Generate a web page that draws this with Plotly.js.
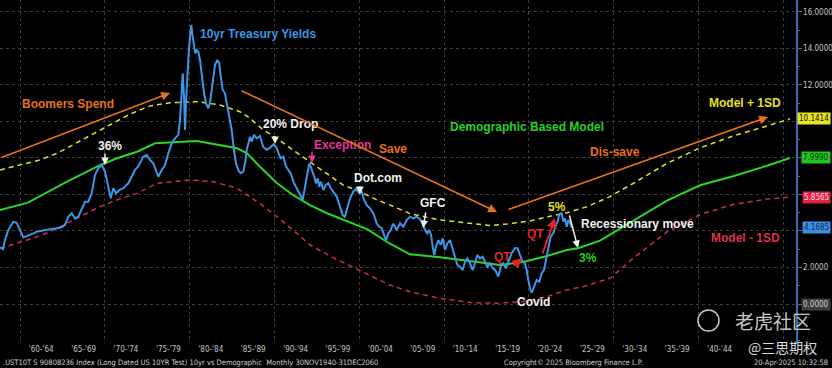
<!DOCTYPE html>
<html><head><meta charset="utf-8">
<script src="https://cdn.plot.ly/plotly-3.0.1.min.js"></script>
<style>html,body{margin:0;padding:0;background:#000;} #chart{width:832px;height:368px;}</style>
</head><body><div id="chart"></div>
<script>
// ---- data ----
const blueYears = [
1957.64,1957.99,1958.23,1958.62,1959.21,1959.61,1960.00,1960.39,1960.79,1961.18,
1961.57,1961.97,1962.75,1963.54,1964.33,1964.92,1965.31,1965.69,1966.10,1966.48,
1966.87,1967.27,1967.66,1968.05,1968.45,1968.84,1969.23,1969.63,1970.02,1970.41,
1970.69,1971.00,1971.32,1971.71,1972.18,1972.77,1973.17,1973.56,1973.95,1974.15,
1974.54,1974.94,1975.33,1975.72,1976.12,1976.31,1976.71,1977.10,1977.49,1977.89,
1978.28,1978.67,1978.87,1979.07,1979.19,1979.34,1979.46,1979.57,1979.73,1979.89,
1980.05,1980.20,1980.36,1980.52,1980.67,1980.84,1981.02,1981.23,1981.43,1981.70,
1981.93,1982.20,1982.40,1982.61,1982.79,1982.99,1983.27,1983.50,1983.67,1983.90,
1984.17,1984.44,1984.76,1984.96,1985.23,1985.47,1985.74,1986.02,1986.33,1986.53,
1986.73,1986.92,1987.12,1987.32,1987.59,1987.91,1988.30,1988.69,1989.09,1989.48,
1989.87,1990.19,1990.46,1990.74,1991.05,1991.37,1991.64,1991.92,1992.23,1992.55,
1992.82,1993.10,1993.34,1993.61,1993.88,1994.11,1994.28,1994.52,1994.70,1994.90,
1995.11,1995.29,1995.49,1995.77,1996.05,1996.36,1996.64,1996.94,1997.35,1997.73,
1998.05,1998.32,1998.60,1998.91,1999.30,1999.70,1999.98,2000.29,2000.57,2000.88,
2001.27,2001.66,2002.06,2002.37,2002.65,2002.92,2003.16,2003.43,2003.71,2004.02,
2004.42,2004.81,2005.20,2005.60,2005.99,2006.38,2006.78,2007.17,2007.56,2007.76,
2008.03,2008.27,2008.47,2008.67,2008.85,2009.05,2009.33,2009.61,2009.85,2010.12,
2010.39,2010.71,2011.02,2011.30,2011.57,2011.89,2012.20,2012.48,2012.75,2013.07,
2013.38,2013.65,2013.93,2014.24,2014.56,2014.83,2015.11,2015.42,2015.74,2016.05,
2016.40,2016.69,2016.99,2017.31,2017.63,2017.98,2018.37,2018.69,2018.96,2019.28,
2019.55,2019.75,2019.94,2020.14,2020.34,2020.61,2020.93,2021.24,2021.52,2021.79,
2022.03,2022.30,2022.58,2022.89,2023.21,2023.44,2023.60,2023.88,2024.07,2024.27,
2024.47,2024.66,2024.86,2025.09];
const blueYields = [
3.1,3.0,3.5,4.05,4.5,4.45,4.05,3.65,3.72,3.78,
3.87,3.96,4.05,4.1,4.15,4.2,4.33,4.78,4.97,4.69,
4.78,5.15,5.6,5.6,6.06,7.06,7.43,7.61,7.25,6.42,
5.79,6.34,6.06,6.24,6.34,6.61,6.97,7.34,7.55,7.7,
8.07,8.16,7.89,7.7,7.16,6.97,7.34,7.61,8.25,8.8,
9.07,9.26,10.08,11.9,12.63,11.35,9.53,10.99,12.81,13.73,
14.64,15.28,14.64,14.09,13.73,13.91,13.82,13.36,12.45,11.54,
10.99,10.72,10.99,11.72,12.45,13.09,13.36,13.18,12.45,11.72,
11.54,10.8,10.08,9.53,8.43,7.7,7.34,7.16,7.25,7.7,
8.43,8.89,9.16,8.89,9.26,9.07,9.2,8.6,8.45,8.55,
8.75,8.61,8.25,7.98,8.07,7.52,7.34,7.16,6.7,6.42,
6.15,5.88,5.7,6.42,7.16,7.7,7.52,7.25,6.97,6.61,
6.88,6.42,6.7,6.24,6.52,6.61,6.34,6.15,5.88,5.33,
4.87,4.78,5.33,5.79,6.15,6.34,6.06,6.15,5.7,5.42,
5.24,4.97,4.42,4.23,4.15,3.78,3.5,3.87,4.05,4.4,
4.05,4.42,4.23,4.6,4.78,4.69,4.78,4.64,4.33,4.05,
3.87,4.05,3.78,3.14,2.68,3.14,3.5,3.23,3.6,2.96,
3.32,3.5,2.96,2.5,2.14,2.04,1.86,2.32,2.5,2.23,
1.86,2.23,2.68,2.5,2.59,2.32,2.04,2.23,1.95,1.86,
1.5,2.04,2.23,1.95,2.41,2.78,3.05,3.05,2.68,2.32,
2.23,1.86,1.31,0.86,0.62,0.95,1.31,1.22,1.68,1.86,
2.41,2.96,3.69,3.9,4.3,4.6,4.93,4.97,4.51,4.69,
4.23,4.6,4.42,4.17];

const modelYears = [1957.64,1960.94,1965.54,1969.43,1971.44,1973.80,1975.92,1980.87,1985.59,1986.77,1988.30,1990.31,1992.19,1994.20,1996.20,1998.56,2000.92,2003.63,2005.99,2009.53,2013.42,2016.60,2019.32,2022.15,2024.50,2025.80,2028.40,2032.29,2036.29,2040.19,2044.08,2048.09,2050.80];
const modelValues = [5.15,5.55,6.7,7.6,7.98,8.34,8.8,8.93,8.53,8.25,7.52,6.61,5.97,5.42,4.97,4.55,4.1,3.3,2.72,2.56,2.32,2.14,2.3,2.63,2.96,3.05,3.47,4.56,5.66,6.5,7.0,7.57,7.999];

const upperYears = [1957.64,1960.00,1962.36,1964.36,1969.43,1972.97,1975.33,1977.69,1980.87,1983.58,1985.94,1987.12,1988.65,1990.31,1992.19,1994.20,1996.20,1998.09,2000.09,2002.10,2003.98,2005.99,2009.53,2013.42,2015.42,2017.43,2020.14,2022.50,2024.50,2026.86,2029.57,2032.29,2036.29,2040.19,2044.08,2048.09,2050.80];
const upperValues = [7.34,7.61,7.89,8.25,9.5,10.4,10.85,11.02,11.08,10.9,10.53,10.17,9.55,9.07,8.43,7.79,7.16,6.52,6.15,5.7,5.35,4.95,4.6,4.38,4.3,4.38,4.55,4.8,5.0,5.33,5.88,6.6,7.7,8.55,9.2,9.75,10.1414];

const lowerYears = [1957.64,1959.64,1961.53,1963.54,1965.54,1967.43,1969.43,1971.44,1973.80,1976.15,1980.05,1982.76,1985.59,1988.30,1990.31,1992.19,1994.20,1996.91,2000.92,2003.63,2005.99,2009.53,2013.42,2016.25,2019.32,2022.15,2024.50,2026.39,2029.57,2032.29,2036.29,2040.19,2044.08,2048.09,2050.80];
const lowerValues = [3.05,3.32,3.6,3.96,4.42,4.87,5.33,5.7,6.06,6.61,6.79,6.7,6.34,5.5,4.78,4.05,3.23,2.54,1.67,1.04,0.67,0.31,0.07,0.04,0.13,0.4,0.77,0.95,1.41,2.5,3.95,4.9,5.45,5.75,5.8565];

const xTickVals = [1962.5,1967.5,1972.5,1977.5,1982.5,1987.5,1992.5,1997.5,2002.5,2007.5,2012.5,2017.5,2022.5,2027.5,2032.5,2037.5,2042.5];
const xTickText = ["'60-'64","'65-'69","'70-'74","'75-'79","'80-'84","'85-'89","'90-'94","'95-'99","'00-'04","'05-'09","'10-'14","'15-'19","'20-'24","'25-'29","'30-'34","'35-'39","'40-'44"];
const decadeYears = [1960,1970,1980,1990,2000,2010,2020,2030,2040,2050];
const yTickVals = [0,2,4,6,8,10,12,14,16];
const yTickText = ['','2.0000','','','','','12.0000','14.0000','16.0000'];
const lastValues = {upper:'10.1414', model:'7.9990', lower:'5.8565', yield:'4.1685', zero:'0.0000'};

// ---- layout helpers ----
const W=832, H=368, M={l:0,r:36,t:0,b:25};
const PW=W-M.l-M.r, PH=H-M.t-M.b;
const px = x => x/PW, py = y => 1 - y/PH;
const FONT = 'Liberation Sans, Arial, sans-serif';
const SMALL = 'DejaVu Sans Condensed, DejaVu Sans, sans-serif';
function label(text, cx, cy, color, size){
  return {text:'<b>'+text+'</b>', x:px(cx), y:py(cy), xref:'paper', yref:'paper', showarrow:false,
    xanchor:'center', yanchor:'middle', font:{family:FONT, size:size||12, color:color}};
}
function arrow(x0,y0,x1,y1,color,w,head,size){
  return {text:'', x:px(x1), y:py(y1), xref:'paper', yref:'paper', ax:x0-x1, ay:y0-y1,
    axref:'pixel', ayref:'pixel', showarrow:true, arrowhead:head||2, arrowsize:size||1,
    arrowwidth:w||1.5, arrowcolor:color, standoff:0};
}
function tag(text, v, bg, fg){
  return {text:text, x:px(W-1), xref:'paper', xanchor:'right', y:v, yref:'y', yanchor:'middle',
    showarrow:false, bgcolor:bg, borderpad:1, font:{family:SMALL, size:8, color:fg}};
}
const ORANGE='#e5711d', WHITE='#f2f2f2';
const annotations = [
  label('Boomers Spend',68,104,ORANGE),
  label('10yr Treasury Yields',258,34,'#3d95e3'),
  label('36%',110,146,WHITE),
  label('20% Drop',290,124,WHITE),
  label('Exception',342,145,'#e0379b'),
  label('Save',393,149,ORANGE),
  label('Dot.com',378,178,WHITE),
  label('GFC',433,203,WHITE),
  label('Demographic Based Model',527,127,'#24d024'),
  label('Dis-save',615,152,ORANGE),
  label('Model + 1SD',745,103,'#e6e020'),
  label('5%',557,207,'#e6e020'),
  label('QT',502,257,'#e52222'),
  label('QT',535,234,'#e52222'),
  label('Recessionary move',637,224,WHITE),
  label('3%',588,258,'#24d024'),
  label('Model - 1SD',745,238,'#dc3050'),
  label('Covid',533,302,WHITE),
  arrow(0,158,170,93,ORANGE,1.6,2,1.1),
  arrow(240,90,497,212,ORANGE,1.6,2,1.1),
  arrow(507,210,768,117,ORANGE,1.6,2,1.1),
  arrow(105,152,105,165,WHITE,1.5,2,1),
  arrow(275,135,275,144,'#f3f0c8',1.5,2,1),
  arrow(312,150,312,163,'#e0379b',1.5,2,1),
  arrow(360,185,360,194,WHITE,1.5,2,1),
  arrow(426,211,423,228,WHITE,1.5,2,1),
  arrow(512,267,522,258,'#e52222',2,2,1),
  arrow(542,255,555,218,'#e52222',2,2,1),
  arrow(569,214,578,248,WHITE,1.5,2,1),
  tag(lastValues.upper,10.1414,'#ebe21e','#111'),
  tag(lastValues.model,7.999,'#22c422','#0a3a0a'),
  tag(lastValues.lower,5.8565,'#e3223f','#fde'),
  tag(lastValues.yield,4.1685,'#3a8fe0','#0c2c55'),
  tag(lastValues.zero,0,'#3c3c3c','#d0d0d0'),
  {text:'.UST10T S 90808236 Index (Long Dated US 10YR Test) 10yr vs Demographic  Monthly 30NOV1940-31DEC2060',
   x:0.001, y:py(362.5), xref:'paper', yref:'paper', xanchor:'left', yanchor:'middle', showarrow:false,
   font:{family:SMALL, size:7.5, color:'#cfcfcf'}},
  {text:'Copyright© 2025 Bloomberg Finance L.P.', x:px(573), y:py(362.5), xref:'paper', yref:'paper',
   xanchor:'center', yanchor:'middle', showarrow:false, font:{family:SMALL, size:7.5, color:'#cfcfcf'}},
  {text:'20-Apr-2025 10:32:58', x:1.043, y:py(362.5), xref:'paper', yref:'paper',
   xanchor:'right', yanchor:'middle', showarrow:false, font:{family:SMALL, size:7.5, color:'#cfcfcf'}},
  {text:'老虎社区', x:px(773), y:py(320), xref:'paper', yref:'paper', xanchor:'center', yanchor:'middle',
   showarrow:false, font:{family:'Noto Sans CJK SC', size:19, color:'rgba(225,225,225,0.9)'}},
  {text:'@三思期权', x:px(782), y:py(347), xref:'paper', yref:'paper', xanchor:'center', yanchor:'middle',
   showarrow:false, font:{family:'Noto Sans CJK SC', size:14, color:'rgba(235,235,235,0.95)'}}
];

const traces = [
  {x:lowerYears, y:lowerValues, type:'scatter', mode:'lines', line:{color:'#c8304c', width:1.5, dash:'5px,4px'}},
  {x:upperYears, y:upperValues, type:'scatter', mode:'lines', line:{color:'#e3df2c', width:1.5, dash:'5px,4px'}},
  {x:modelYears, y:modelValues, type:'scatter', mode:'lines', line:{color:'#2bd42b', width:2}},
  {x:blueYears, y:blueYields, type:'scatter', mode:'lines', line:{color:'#3d96e6', width:2}}
];

const layout = {
  width:W, height:H, margin:M, paper_bgcolor:'#000', plot_bgcolor:'#000', showlegend:false,
  hovermode:false,
  xaxis:{range:[1957.64, 1957.64+PW/8.48], tickmode:'array', tickvals:xTickVals, ticktext:xTickText,
    ticks:'', showgrid:false, zeroline:false, showline:false,
    tickfont:{family:SMALL, size:8, color:'#c4c4c4'},
    minor:{tickmode:'array', tickvals:decadeYears, showgrid:true, gridcolor:'#3c3c3c', griddash:'dot', gridwidth:1, ticks:''}},
  yaxis:{side:'right', range:[(304-PH)/18.26, 304/18.26], tickmode:'array', tickvals:yTickVals, ticktext:yTickText,
    ticks:'outside', ticklen:4, tickcolor:'#3b6fb5', showline:true, linecolor:'#3b6fb5', linewidth:1.5,
    showgrid:true, gridcolor:'#3c3c3c', griddash:'dot', gridwidth:1, zeroline:false,
    tickfont:{family:SMALL, size:8, color:'#c8c8c8'},
    minor:{dtick:1, ticks:'outside', ticklen:2, tickcolor:'#3b6fb5', showgrid:false}},
  annotations:annotations,
  shapes:[{type:'circle', xref:'paper', yref:'paper', x0:px(698), x1:px(719), y0:py(331), y1:py(310),
    line:{color:'rgba(220,220,220,0.9)', width:1.5}}]
};
Plotly.newPlot('chart', traces, layout, {staticPlot:true, displayModeBar:false});
</script>
</body></html>
